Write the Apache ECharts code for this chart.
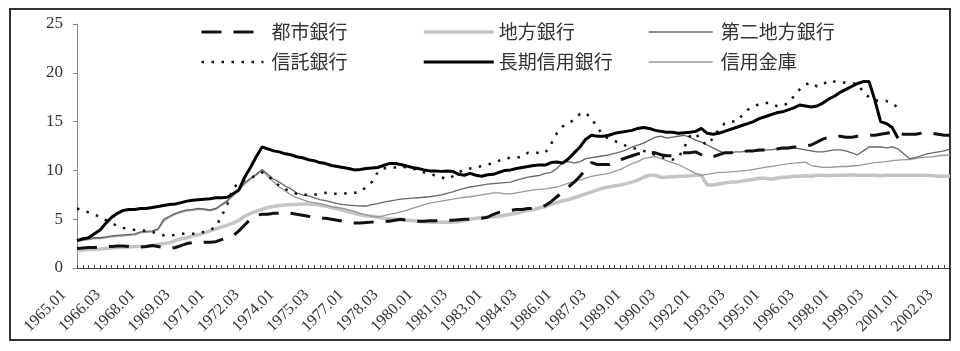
<!DOCTYPE html>
<html>
<head>
<meta charset="utf-8">
<script src="https://cdn.jsdelivr.net/npm/echarts@6/dist/echarts.min.js"></script>
<style>
html, body { margin: 0; background: #fff; }
#main { width: 960px; height: 351px; }
</style>
</head>
<body>
<div id="main"></div>
<script>
// 四半期ラベル 1965.01 ～ 2002.04
var firstYear = 1965, lastYear = 2002;
var quarterNames = ['01', '02', '03', '04'];
var categories = [];
for (var y = firstYear; y <= lastYear; y++) {
  for (var q = 0; q < 4; q++) categories.push(y + '.' + quarterNames[q]);
}
var yTicks = [0, 5, 10, 15, 20, 25];

var toshi = [2.0,2.05,2.1,2.1, 2.15,2.2,2.2,2.25, 2.25,2.2,2.15,2.15, 2.2,2.3,2.2,2.1,
  2.0,2.1,2.3,2.5, 2.6,2.65,2.65,2.65, 2.7,2.9,3.1,3.3, 3.8,4.4,5.0,5.4,
  5.5,5.5,5.6,5.6, 5.7,5.6,5.5,5.4, 5.3,5.2,5.1,5.1, 5.0,4.9,4.8,4.7,
  4.6,4.6,4.65,4.7, 4.75,4.8,4.8,4.9, 5.0,4.9,4.85,4.8, 4.8,4.85,4.85,4.9,
  4.9,4.9,4.95,5.0, 5.0,5.05,5.1,5.2, 5.5,5.7,5.8,5.9, 6.0,6.0,6.1,6.1,
  6.2,6.4,6.8,7.3, 7.8,8.3,8.8,9.4, 10.1,10.8,10.6,10.6, 10.6,10.9,11.1,11.3,
  11.5,11.7,11.8,11.85, 11.8,11.6,11.5,11.5, 11.6,11.8,11.8,11.9, 11.6,11.3,11.4,11.6,
  11.8,11.8,11.9,11.9, 12.0,12.0,12.1,12.1, 12.2,12.2,12.3,12.3, 12.4,12.4,12.5,12.6,
  12.9,13.2,13.4,13.5, 13.5,13.4,13.4,13.5, 13.5,13.6,13.6,13.7, 13.8,13.9,13.8,13.7,
  13.7,13.7,13.8,13.9, 13.8,13.7,13.6,13.6];

var chiho = [1.8,1.85,1.9,1.9, 1.95,2.0,2.05,2.1, 2.15,2.15,2.2,2.2, 2.2,2.3,2.4,2.5,
  2.6,2.8,3.0,3.1, 3.3,3.4,3.6,3.8, 4.0,4.2,4.4,4.6, 4.9,5.3,5.6,5.8,
  6.0,6.2,6.3,6.4, 6.45,6.5,6.5,6.55, 6.55,6.5,6.45,6.35, 6.2,6.1,5.9,5.75,
  5.6,5.45,5.35,5.3, 5.2,5.1,5.05,5.0, 4.95,4.9,4.85,4.8, 4.75,4.7,4.7,4.7,
  4.7,4.7,4.75,4.85, 5.0,5.1,5.15,5.2, 5.25,5.3,5.4,5.5, 5.6,5.75,5.9,6.0,
  6.15,6.3,6.5,6.7, 6.9,7.0,7.2,7.4, 7.6,7.8,8.0,8.2, 8.3,8.4,8.5,8.65,
  8.8,9.0,9.3,9.5, 9.5,9.3,9.3,9.35, 9.4,9.4,9.45,9.5, 9.5,8.5,8.5,8.6,
  8.7,8.8,8.8,8.9, 9.0,9.1,9.2,9.2, 9.1,9.2,9.3,9.3, 9.4,9.4,9.45,9.4,
  9.5,9.5,9.45,9.5, 9.5,9.5,9.55,9.5, 9.5,9.5,9.5,9.45, 9.5,9.5,9.5,9.5,
  9.5,9.5,9.5,9.5, 9.45,9.4,9.4,9.4];

var dainiChiho = [2.8,2.9,3.0,3.1, 3.1,3.2,3.3,3.35, 3.4,3.45,3.5,3.7, 3.75,3.8,4.0,5.0,
  5.3,5.6,5.8,5.95, 6.0,6.1,6.05,5.95, 6.1,6.5,6.9,7.5, 8.1,8.7,9.2,9.6,
  10.1,9.6,9.1,8.8, 8.4,8.1,7.7,7.5, 7.4,7.2,7.0,6.9, 6.75,6.6,6.5,6.45,
  6.4,6.35,6.35,6.5, 6.6,6.75,6.85,6.95, 7.05,7.1,7.15,7.2, 7.25,7.3,7.4,7.5,
  7.65,7.8,8.0,8.15, 8.3,8.4,8.5,8.6, 8.65,8.7,8.75,8.8, 9.0,9.15,9.3,9.4,
  9.5,9.7,9.8,10.2, 10.8,10.9,10.75,10.9, 11.2,11.3,11.4,11.5, 11.6,11.75,11.9,12.1,
  12.4,12.6,12.8,13.1, 13.4,13.5,13.3,13.4, 13.5,13.6,13.4,13.1, 12.9,12.6,12.3,12.0,
  11.8,11.8,11.9,11.9, 12.0,12.0,12.0,12.1, 12.1,12.2,12.2,12.2, 12.3,12.2,12.1,12.0,
  11.9,11.9,12.0,12.1, 12.1,12.0,11.8,11.6, 12.0,12.4,12.4,12.4, 12.3,12.4,12.2,11.7,
  11.2,11.3,11.5,11.7, 11.8,11.9,12.0,12.2];

var shintaku = [6.1,5.9,5.7,5.5, 5.2,4.9,4.6,4.3, 4.1,4.0,3.9,3.85, 3.8,3.7,3.5,3.35,
  3.3,3.4,3.5,3.5, 3.5,3.55,3.7,3.9, 4.2,5.3,6.5,8.2, 8.7,9.0,9.2,9.5,
  9.8,9.4,9.0,8.4, 8.1,7.8,7.6,7.5, 7.5,7.5,7.6,7.7, 7.6,7.6,7.6,7.7,
  7.7,7.8,8.3,8.8, 9.8,10.2,10.3,10.3, 10.4,10.3,10.2,10.0, 9.8,9.6,9.5,9.3,
  9.1,9.4,9.8,10.1, 10.2,10.3,10.45,10.6, 10.75,11.0,11.2,11.3, 11.3,11.4,11.8,11.8,
  11.8,11.8,12.7,13.8, 14.5,14.8,15.2,15.8, 15.9,15.3,14.4,13.6, 13.2,13.0,12.8,12.5,
  12.3,12.2,12.0,11.8, 11.6,11.4,11.2,11.1, 11.3,12.3,13.5,13.8, 13.0,12.6,13.3,14.2,
  14.8,15.0,15.0,15.6, 16.2,16.5,16.8,16.9, 16.9,16.6,16.6,16.9, 17.6,18.3,18.8,19.0,
  18.6,18.8,19.2,19.1, 19.0,19.0,18.9,18.9, 18.0,17.5,17.2,17.1, 17.1,16.9,16.4,null,
  null,null,null,null, null,null,null,null];

var choki = [2.8,3.0,3.1,3.5, 3.9,4.6,5.2,5.6, 5.9,6.0,6.0,6.1, 6.1,6.2,6.3,6.4,
  6.5,6.55,6.7,6.85, 6.95,7.0,7.05,7.1, 7.2,7.2,7.25,7.6, 8.0,9.3,10.3,11.4,
  12.4,12.2,12.0,11.9, 11.7,11.6,11.4,11.3, 11.1,11.0,10.8,10.7, 10.5,10.4,10.3,10.2,
  10.05,10.1,10.2,10.25, 10.3,10.5,10.7,10.7, 10.6,10.45,10.3,10.2, 10.05,9.95,9.95,9.9,
  9.95,9.9,9.6,9.5, 9.7,9.5,9.4,9.55, 9.6,9.8,10.0,10.05, 10.2,10.3,10.4,10.5,
  10.55,10.55,10.8,10.85, 10.75,11.2,11.8,12.4, 13.2,13.6,13.5,13.5, 13.6,13.8,13.9,14.0,
  14.1,14.3,14.4,14.3, 14.1,14.0,13.9,13.9, 13.8,13.85,13.9,14.0, 14.3,13.8,13.7,13.8,
  14.0,14.2,14.4,14.6, 14.8,15.0,15.3,15.5, 15.7,15.9,16.0,16.2, 16.4,16.7,16.6,16.5,
  16.6,16.9,17.3,17.6, 18.0,18.3,18.6,18.9, 19.1,19.1,17.2,15.0, 14.8,14.4,13.3,null,
  null,null,null,null, null,null,null,null];

var shinkin = [2.7,2.8,2.9,3.0, 3.0,3.1,3.2,3.25, 3.3,3.35,3.4,3.6, 3.65,3.7,3.9,4.8,
  5.2,5.5,5.7,5.85, 5.9,6.0,5.95,5.85, 6.0,6.4,6.8,7.4, 8.0,8.6,9.1,9.5,
  10.0,9.4,8.8,8.3, 7.9,7.5,7.2,7.0, 6.8,6.7,6.6,6.45, 6.3,6.2,6.1,5.95,
  5.8,5.6,5.45,5.3, 5.25,5.35,5.5,5.6, 5.75,5.9,6.1,6.3, 6.5,6.65,6.75,6.85,
  6.95,7.05,7.15,7.25, 7.3,7.4,7.5,7.6, 7.7,7.7,7.6,7.6, 7.7,7.8,7.9,8.0,
  8.05,8.1,8.2,8.3, 8.5,8.7,8.9,9.0, 9.2,9.4,9.5,9.6, 9.7,9.9,10.1,10.4,
  10.7,10.9,11.2,11.3, 11.4,11.2,11.0,10.8, 10.6,10.3,10.0,9.7, 9.5,9.6,9.7,9.8,
  9.8,9.85,9.9,9.95, 10.0,10.1,10.2,10.3, 10.4,10.5,10.6,10.7, 10.75,10.8,10.85,10.5,
  10.4,10.3,10.3,10.35, 10.4,10.4,10.45,10.5, 10.6,10.7,10.8,10.85, 10.9,11.0,11.05,11.1,
  11.1,11.2,11.3,11.35, 11.4,11.5,11.55,11.6];

var serif = '"Liberation Serif", "DejaVu Serif", serif';
var jp = '"Noto Sans CJK JP", sans-serif';

// name, data, colour, width, dash
var seriesDefs = [
  ['信用金庫', shinkin, '#999', 1.3, 'solid', 2],
  ['第二地方銀行', dainiChiho, '#666', 1.3, 'solid', 3],
  ['地方銀行', chiho, '#c4c4c4', 3.5, 'solid', 1],
  ['信託銀行', shintaku, '#111', 2.5, [2.5, 7.5], 4],
  ['都市銀行', toshi, '#111', 3, [20, 12], 5],
  ['長期信用銀行', choki, '#000', 3, 'solid', 6]
];

function lineSeries(d) {
  return {
    name: d[0],
    type: 'line',
    data: d[1],
    symbol: 'none',
    z: d[5],
    connectNulls: false,
    lineStyle: { color: d[2], width: d[3], type: d[4], cap: 'butt' },
    itemStyle: { color: d[2] }
  };
}

function legendItem(name) {
  var d = seriesDefs.filter(function (s) { return s[0] === name; })[0];
  return { name: name, lineStyle: { color: d[2], width: d[3], type: d[4] } };
}

var legendText = { fontFamily: jp, fontSize: 19, color: '#333', lineHeight: 20 };
function legendCol(left, width, names, gap) {
  return {
    orient: 'vertical', left: left, top: 17,
    itemWidth: width, itemHeight: 14, itemGap: 10,
    itemStyle: { opacity: 0 },
    data: names.map(legendItem),
    textStyle: Object.assign({ padding: [0, 0, 0, gap] }, legendText)
  };
}

var chart = echarts.init(document.getElementById('main'));
chart.setOption({
  animation: false,
  backgroundColor: '#fff',
  graphic: [{
    type: 'rect',
    shape: { x: 10, y: 9, width: 940, height: 331 },
    style: { fill: 'none', stroke: '#333', lineWidth: 2 }
  }],
  grid: { left: 77, right: 10, top: 24, bottom: 83 },
  legend: [
    legendCol(195, 62, ['都市銀行', '信託銀行'], 3),
    legendCol(417, 70, ['地方銀行', '長期信用銀行'], 0),
    legendCol(643, 64, ['第二地方銀行', '信用金庫'], 3)
  ],
  xAxis: {
    type: 'category',
    data: categories,
    boundaryGap: false,
    axisLine: { lineStyle: { color: '#444', width: 1 } },
    axisTick: { inside: true, length: 3, interval: 0, lineStyle: { color: '#444' } },
    axisLabel: { interval: 5, rotate: 45, margin: 11, padding: [0, 19, 0, 0],
      fontFamily: serif, fontSize: 16, color: '#333' },
    splitLine: { show: false }
  },
  yAxis: {
    type: 'value',
    min: yTicks[0],
    max: yTicks[yTicks.length - 1],
    interval: 5,
    axisLine: { show: true, lineStyle: { color: '#888', width: 1 } },
    axisTick: { show: true, length: 4, lineStyle: { color: '#888' } },
    axisLabel: { margin: 14, fontFamily: serif, fontSize: 17, color: '#333' },
    splitLine: { show: false }
  },
  series: seriesDefs.map(lineSeries)
});
</script>
</body>
</html>
